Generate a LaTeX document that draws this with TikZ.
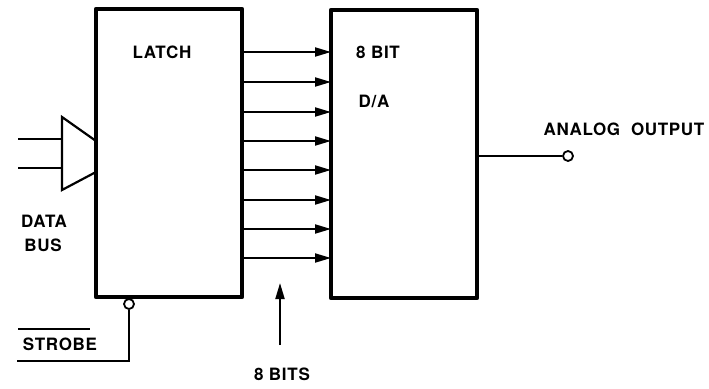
\documentclass[tikz,border=0pt]{standalone}
\usepackage{fontspec}
\setmainfont{TeX Gyre Heros}[LetterSpace=4]
\usetikzlibrary{arrows.meta}
\begin{document}
\begin{tikzpicture}[x=1pt,y=-1pt,
  blk/.style={draw, line width=4.5pt, line join=round, minimum width=146pt, minimum height=288pt, inner sep=0pt, outer sep=0pt},
  lbl/.style={font=\fontsize{17}{19}\selectfont\bfseries, inner sep=0pt},
  bus/.style={line width=2pt},
  arr/.style={line width=2pt, -{Triangle[length=16pt,width=9pt]}},
  pin/.style={draw, circle, line width=1.8pt, minimum size=10pt, inner sep=0pt, fill=white}]
\useasboundingbox (0,0) rectangle (709,388);
\node[blk, anchor=north west] (latch) at (96,9) {};
\node[blk, anchor=north west] (dac) at (331,10) {};
\node[lbl] (tl) at (162,52) {LATCH};
\node[lbl] (t8) at (378,52) {8\ BIT};
\node[lbl] (tda) at (374,101) {D/A};
% bit arrows
\foreach \y [count=\i] in {52,82,112,141,170,200,229,258} {
  \draw[arr] (latch.north east |- 0,\y) -- (dac.north west |- 0,\y);
}
% data bus buffer
\draw[line width=2.2pt, line join=miter] (96,141) -- (62,117) -- (62,190) -- (96,172);
\coordinate (b1) at (18,139);
\coordinate (b2) at (18,168);
\draw[bus] (b1) -- (62,139);
\draw[bus] (b2) -- (62,168);
\node[lbl] (db1) at (44,221) {DATA};
\node[lbl] (db2) at (43,245) {BUS};
% strobe
\node[pin] (sc) at (129,304) {};
\coordinate (sk) at (129,361);
\coordinate (sl) at (17,361);
\draw[bus] (sc.south) -- (sk) -- (sl);
\node[lbl] (st) at (60,344) {STROBE};
\coordinate (o1) at (18,329);
\coordinate (o2) at (90,329);
\draw[line width=1.8pt] (o1) -- (o2);
% 8 bits
\coordinate (ab) at (280,345);
\draw[arr] (ab) -- (280,283);
\node[lbl] (t8b) at (282,374) {8\ BITS};
% analog output
\node[pin] (ao) at (568,156) {};
\draw[bus] (dac.east |- ao) -- (ao.west);
\node[lbl] (tao) at (624,129) {ANALOG\ \ OUTPUT};
\end{tikzpicture}
\end{document}
